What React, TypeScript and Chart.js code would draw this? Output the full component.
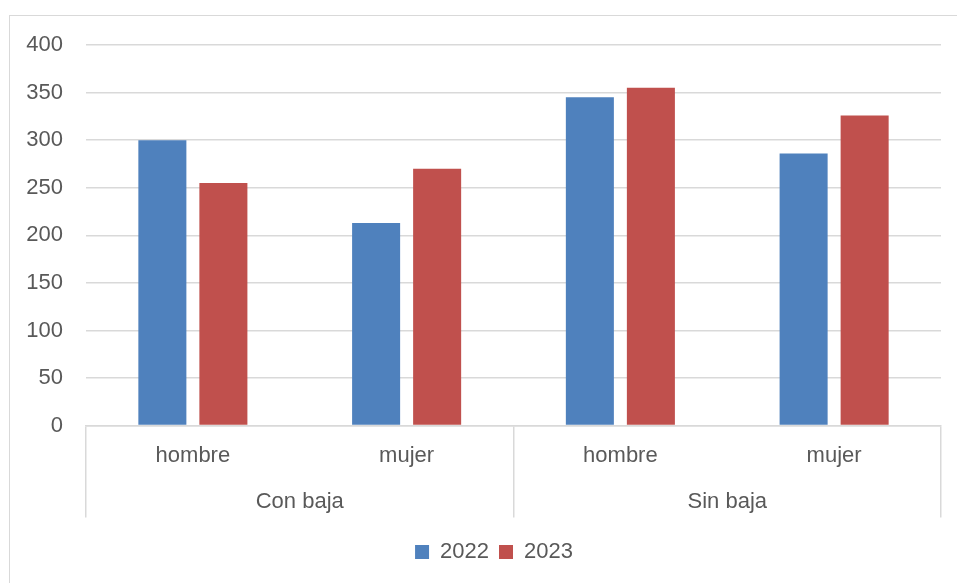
import React, { useEffect, useRef } from "react";
import { Chart, registerables } from "chart.js";

Chart.register(...registerables);

const subCategories = ["hombre", "mujer", "hombre", "mujer"];
const groupCategories = ["Con baja", "Sin baja"];
const series2022 = [300, 213, 345, 286];
const series2023 = [255, 270, 355, 326];
const seriesNames = ["2022", "2023"];
const yTicks = { min: 0, max: 400, step: 50 };

const FONT = "'Liberation Sans', Arial, sans-serif";
const TEXT = "#595959";
const GRID = "#D9D9D9";

const CANVAS_W = 980;
const CANVAS_H = 583;

export default function App() {
  const ref = useRef<HTMLCanvasElement | null>(null);

  useEffect(() => {
    if (!ref.current) return;
    const chart = new Chart(ref.current, {
      type: "bar",
      data: {
        labels: subCategories,
        datasets: [
          {
            label: seriesNames[0],
            data: series2022,
            backgroundColor: "#4F81BD",
            xAxisID: "x",
            yAxisID: "y",
            categoryPercentage: 0.571,
            barPercentage: 0.787,
          },
          {
            label: seriesNames[1],
            data: series2023,
            backgroundColor: "#C0504D",
            xAxisID: "x",
            yAxisID: "y",
            categoryPercentage: 0.571,
            barPercentage: 0.787,
          },
        ],
      },
      options: {
        animation: false,
        responsive: false,
        maintainAspectRatio: false,
        devicePixelRatio: 1,
        layout: { padding: { top: 45, left: 25, right: 17, bottom: 10 } },
        font: { family: FONT, size: 22 },
        plugins: {
          tooltip: { enabled: false },
          legend: {
            position: "bottom",
            labels: {
              boxWidth: 14,
              boxHeight: 14,
              padding: 10,
              color: TEXT,
              font: { family: FONT, size: 22 },
            },
          },
        },
        scales: {
          x: {
            type: "category",
            position: "bottom",
            weight: 0,
            offset: true,
            grid: {
              offset: true,
              drawOnChartArea: false,
              drawTicks: true,
              tickLength: 92,
              lineWidth: 1.5,
              color: (ctx: any) =>
                ctx.index === undefined || ctx.index % 2 === 0 ? GRID : "rgba(0,0,0,0)",
            },
            border: { display: true, color: GRID, width: 1.5 },
            ticks: {
              color: TEXT,
              padding: -75,
              maxRotation: 0,
              autoSkip: false,
              font: { family: FONT, size: 22 },
            },
            afterFit: (scale: any) => {
              scale.height = 43.4;
            },
          },
          x2: {
            type: "category",
            position: "bottom",
            weight: 1,
            labels: groupCategories,
            offset: true,
            grid: { display: false, drawTicks: false },
            border: { display: false },
            ticks: {
              color: TEXT,
              padding: 20,
              maxRotation: 0,
              autoSkip: false,
              font: { family: FONT, size: 22 },
            },
            afterFit: (scale: any) => {
              scale.height = 62;
            },
          },
          y: {
            position: "left",
            min: yTicks.min,
            max: yTicks.max,
            ticks: {
              stepSize: yTicks.step,
              color: TEXT,
              padding: 23,
              font: { family: FONT, size: 22 },
            },
            grid: { color: GRID, lineWidth: 1.5, drawTicks: false },
            border: { display: false },
            afterFit: (scale: any) => {
              scale.width = 61;
            },
          },
          yRight: {
            position: "right",
            display: true,
            ticks: { display: false },
            grid: { display: false, drawTicks: false },
            border: { display: false },
            afterFit: (scale: any) => {
              scale.width = 22;
            },
          },
        },
      },
    });
    return () => chart.destroy();
  }, []);

  return (
    <div style={{ position: "fixed", left: 0, top: 0, width: 957, height: 583, background: "#fff", overflow: "hidden" }}>
      <div
        style={{
          position: "absolute",
          left: 9,
          top: 15,
          width: 1000,
          height: 700,
          border: "1.5px solid #D9D9D9",
          boxSizing: "border-box",
        }}
      />
      <canvas
        ref={ref}
        width={CANVAS_W}
        height={CANVAS_H}
        style={{ position: "absolute", left: 0, top: 0, width: CANVAS_W, height: CANVAS_H }}
      />
    </div>
  );
}
